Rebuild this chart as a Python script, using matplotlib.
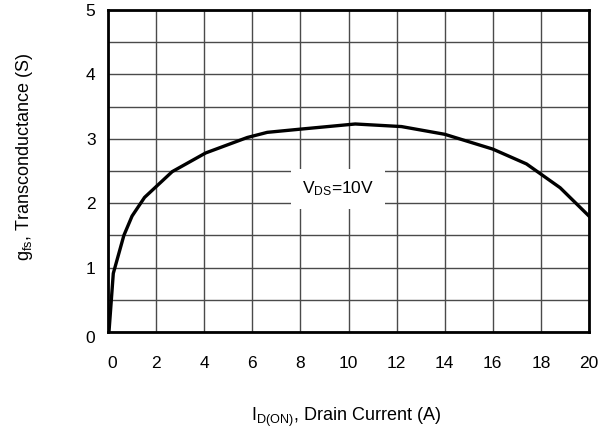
import matplotlib
matplotlib.use("Agg")
import matplotlib.pyplot as plt
from matplotlib.transforms import ScaledTranslation

plt.rcParams['font.family'] = ['Liberation Sans', 'DejaVu Sans']
plt.rcParams['mathtext.fontset'] = 'custom'
plt.rcParams['mathtext.rm'] = 'Liberation Sans'
plt.rcParams['mathtext.it'] = 'Liberation Sans'

# data
drain_current = [0.04, 0.22, 0.66, 1.0, 1.52, 2.67, 4.06, 5.79, 6.62, 8.0,
                 10.28, 12.2, 14.0, 16.0, 17.4, 18.8, 20.0]
transconductance = [0.0, 0.91, 1.50, 1.80, 2.09, 2.49, 2.78, 3.02, 3.10, 3.15,
                    3.23, 3.19, 3.07, 2.84, 2.61, 2.24, 1.80]
x_ticks = [0, 2, 4, 6, 8, 10, 12, 14, 16, 18, 20]
y_ticks = [0, 1, 2, 3, 4, 5]

fig = plt.figure(figsize=(6.16, 4.37), dpi=100)
ax = fig.add_axes([108/616, 1-332/437, (589-108)/616, (332-10)/437])

ax.plot(drain_current, transconductance, color='black', lw=2.4, zorder=3,
        solid_joinstyle='round')
ax.set_xlim(0, 20)
ax.set_ylim(0, 5)
ax.set_xticks(x_ticks)
ax.set_yticks(y_ticks)
ax.set_yticks([0.5, 1.5, 2.5, 3.5, 4.5], minor=True)
ax.grid(which='both', color='#4a4a4a', lw=1.0, zorder=1)
ax.set_axisbelow(True)
ax.tick_params(which='both', length=0)
ax.tick_params(axis='x', pad=17, labelsize=12.5)
ax.tick_params(axis='y', pad=9, labelsize=12.5)
for s in ax.spines.values():
    s.set_linewidth(2.0)
    s.set_zorder(4)

# offset the zero labels like the reference
xl = ax.get_xticklabels()
xl[0].set_transform(xl[0].get_transform() + ScaledTranslation(4/100, 0, fig.dpi_scale_trans))
yl = ax.get_yticklabels()
yl[0].set_transform(yl[0].get_transform() + ScaledTranslation(0, -5/100, fig.dpi_scale_trans))

ax.text(9.55, 2.22, r'V$_{\mathrm{DS}}$=10V', fontsize=12.5, ha='center', va='center',
        zorder=5, bbox=dict(facecolor='white', edgecolor='none', pad=8))

fig.text(346/616, 1-417/437, r'I$_{\mathrm{D(ON)}}$, Drain Current (A)', fontsize=13,
         ha='center', va='center')
fig.text(25/616, 1-157/437, r'g$_{\mathrm{fs}}$, Transconductance (S)', fontsize=13,
         ha='center', va='center', rotation=90)

fig.savefig('out.png', dpi=100)
